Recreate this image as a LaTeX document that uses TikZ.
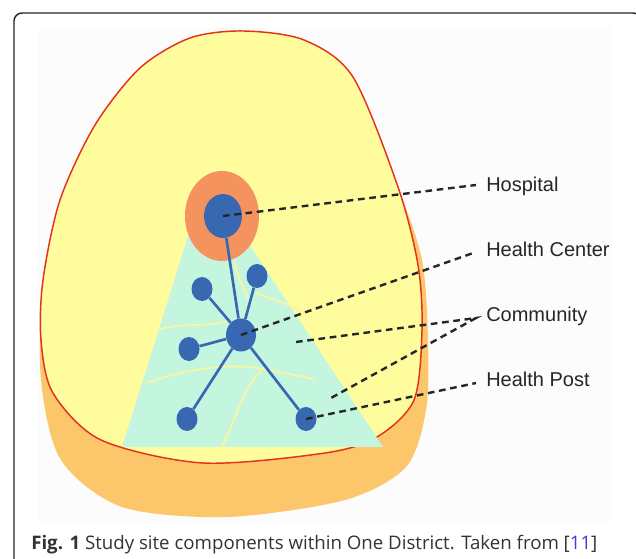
\documentclass[tikz,border=0pt]{standalone}
\usepackage{fontspec}
\setmainfont{Liberation Sans}
\newfontfamily\captionfont{Open Sans}
\usetikzlibrary{shapes.geometric}
\definecolor{blobyellow}{HTML}{FFFC9E}
\definecolor{bloborange}{HTML}{FBC76A}
\definecolor{borderred}{HTML}{E5321E}
\definecolor{mintgreen}{HTML}{C4F6DF}
\definecolor{hosporange}{HTML}{F4935E}
\definecolor{nodeblue}{HTML}{3868B2}
\definecolor{roadyellow}{HTML}{F7F5A6}
\definecolor{citeblue}{HTML}{3F3FD0}
\definecolor{captiongray}{HTML}{333333}

\tikzset{
  site/.style={ellipse, fill=nodeblue, inner sep=0},
  post/.style={site, minimum width=15.75pt, minimum height=18pt},
  link/.style={nodeblue, line width=2pt},
  callout/.style={dash pattern=on 5pt off 3.5pt, line width=1.8pt, black!85},
  road/.style={roadyellow, line width=1.4pt},
  tag/.style={anchor=base west, inner sep=0, text=black!85,
    font=\fontsize{15pt}{18pt}\selectfont},
}

\begin{document}
\begin{tikzpicture}[x=0.75pt, y=-0.75pt]
    \useasboundingbox (0,0) rectangle (636,559);
    % frame and plot area
    \draw[line width=1.1pt, black!85, rounded corners=6pt] (14,570) -- (14,13) -- (641,13) -- (641,570);
    \fill[black!1] (38,28) rectangle (612,522);

    % district
    \fill[bloborange] plot[smooth cycle] coordinates {(243,31) (304,40) (353,77) (398,187) (422,260) (428,340) (426,410) (406,467) (345,500) (227,517) (122,507) (61,460) (41,380) (43,280) (60,200) (95,125) (140,68) (190,38)};
    \filldraw[fill=blobyellow, draw=borderred, line width=1.1pt] plot[smooth cycle] coordinates {(243,31) (304,40) (353,77) (398,187) (418,265) (422,330) (414,400) (377,437) (325,453) (203,463) (101,440) (53,393) (41,340) (43,280) (60,200) (95,125) (140,68) (190,38)};

    % catchment area
    \fill[mintgreen] (206,179) -- (383,447) -- (122,447) -- cycle;
    \draw[road] (158,330) .. controls (180,322) and (200,328) .. (228,321);
    \draw[road] (146,383) .. controls (185,370) and (225,362) .. (262,369) .. controls (285,373) and (300,376) .. (314,379);
    \draw[road] (262,370) .. controls (240,392) and (236,420) .. (222,447);
    \draw[road] (256,293) .. controls (272,300) and (288,302) .. (300,312);
    \draw[road] (234,262) .. controls (238,278) and (244,290) .. (250,302);

    % facilities
    \node[ellipse, fill=hosporange, minimum width=55.5pt, minimum height=67.5pt] (zone) at (222,216) {};
    \node[site, minimum width=28.5pt, minimum height=33pt] (hosp) at (223,216) {};
    \node[site, minimum width=22.5pt, minimum height=24.75pt] (hc) at (241,335) {};
    \node[post] (p1) at (202,289) {};
    \node[post] (p2) at (257,276) {};
    \node[post] (p3) at (189,349) {};
    \node[post] (p4) at (187,419) {};
    \node[post] (p5) at (306,419) {};
    \draw[link] (hosp) -- (hc);
    \foreach \p in {p1,p2,p3,p4,p5}
        \draw[link] (hc) -- (\p);

    % labels
    \node[tag] (tHosp) at (486,192) {Hospital};
    \node[tag] (tHC) at (486,257) {Health Center};
    \node[tag] (tComm) at (486,322) {Community};
    \node[tag] (tHP) at (486,387) {Health Post};
    \coordinate (eHosp) at (476,185);
    \coordinate (eHC) at (476,252);
    \coordinate (eComm) at (476,318);
    \coordinate (eHP) at (476,383);
    \coordinate (area1) at (296,342);
    \coordinate (area2) at (331,398);
    \draw[callout] (hosp.center) -- (eHosp);
    \draw[callout] (hc.center) -- (eHC);
    \draw[callout] (area1) -- (eComm) -- (area2);
    \draw[callout] (p5.center) -- (eHP);

    % caption
    \node[anchor=base west, inner sep=0, text=captiongray,
      font=\captionfont\fontsize{14pt}{17pt}\selectfont] (caption) at (31,550)
      {\textbf{Fig. 1} Study site components within One District. Taken from [\textcolor{citeblue}{11}]};
\end{tikzpicture}
\end{document}
